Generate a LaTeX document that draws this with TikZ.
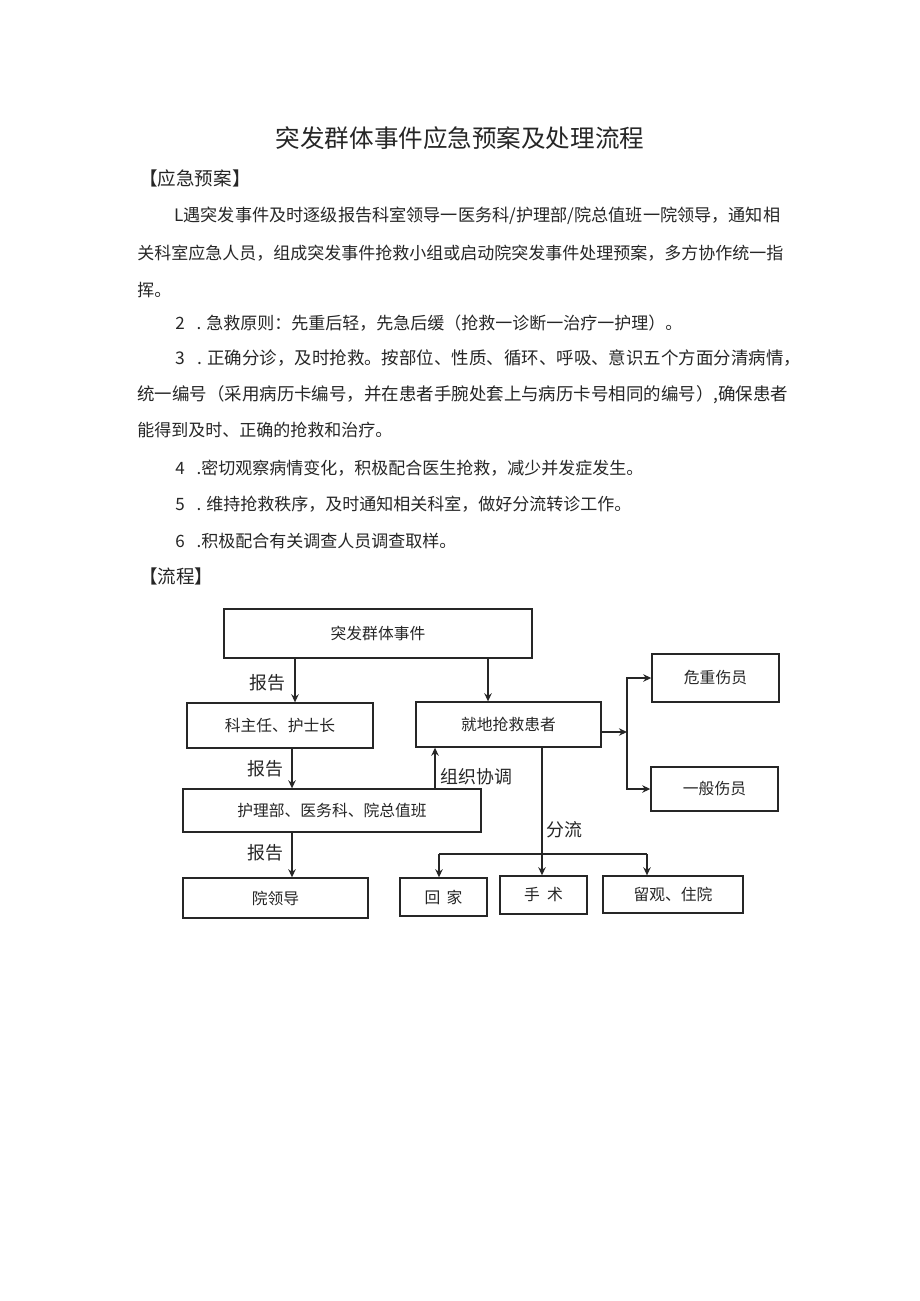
\documentclass[tikz,border=0pt]{standalone}
\usepackage{fontspec}
\setmainfont{Noto Sans CJK SC}
\usepackage{tikz}
\usetikzlibrary{arrows.meta,positioning,calc}
\definecolor{ink}{HTML}{262626}
\tikzset{box/.style={draw=ink,line width=0.9pt,align=center,text=ink,inner sep=0pt,font=\fontsize{10.2pt}{12pt}\selectfont}, flow/.style={-{Stealth[length=5.2pt,width=4.8pt]},line width=0.9pt,draw=ink}, tag/.style={font=\fontsize{11.6pt}{13pt}\selectfont,inner sep=0pt,text=ink}, txt/.style={anchor=west,inner sep=0pt,text=ink,font=\fontsize{11pt}{13pt}\selectfont}}

\begin{document}
\begin{tikzpicture}[x=0.6471pt,y=-0.6471pt]
\fill[white] (0,0) rectangle (920,1301);
\useasboundingbox (0,0) rectangle (920,1301);
\node[inner sep=0pt,text=ink,font=\fontsize{15.9pt}{18pt}\selectfont] (title) at (460,138) {突发群体事件应急预案及处理流程};
\node[txt,font=\fontsize{12pt}{14pt}\selectfont] (h1) at (139,178) {【应急预案】};
\node[txt,font=\fontsize{11.1pt}{13pt}\selectfont] (l1) at (174,216) {L遇突发事件及时逐级报告科室领导一医务科/护理部/院总值班一院领导，通知相};
\node[txt] (l2) at (137,253) {关科室应急人员，组成突发事件抢救小组或启动院突发事件处理预案，多方协作统一指};
\node[txt] (l3) at (137,290) {挥。};
\node[txt] (l4) at (175,323) {2\hspace{0.7em}.\hspace{0.3em}急救原则：先重后轻，先急后缓（抢救一诊断一治疗一护理）。};
\node[txt,font=\fontsize{11.3pt}{13pt}\selectfont] (l5) at (175,358) {3\hspace{0.7em}.\hspace{0.3em}正确分诊，及时抢救。按部位、性质、循环、呼吸、意识五个方面分清病情，};
\node[txt,font=\fontsize{11.3pt}{13pt}\selectfont] (l6) at (137,395) {统一编号（采用病历卡编号，并在患者手腕处套上与病历卡号相同的编号）,确保患者};
\node[txt] (l7) at (137,430) {能得到及时、正确的抢救和治疗。};
\node[txt] (l8) at (175,468) {4\hspace{0.7em}.密切观察病情变化，积极配合医生抢救，减少并发症发生。};
\node[txt] (l9) at (175,504) {5\hspace{0.7em}.\hspace{0.3em}维持抢救秩序，及时通知相关科室，做好分流转诊工作。};
\node[txt] (l10) at (175,541) {6\hspace{0.7em}.积极配合有关调查人员调查取样。};
\node[txt,font=\fontsize{12pt}{14pt}\selectfont] (h2) at (139,576) {【流程】};
\node[box,minimum width=199.3pt,minimum height=31.7pt] (evt) at (378,633.5) {突发群体事件};
\node[box,minimum width=120.4pt,minimum height=29.1pt] (kzr) at (280,725.5) {科主任、护士长};
\node[box,minimum width=192.8pt,minimum height=27.8pt] (hlb) at (332,810.5) {护理部、医务科、院总值班};
\node[box,minimum width=119.7pt,minimum height=25.9pt] (yld) at (275.5,898) {院领导};
\node[box,minimum width=119.7pt,minimum height=29.1pt] (jd) at (508.5,724.5) {就地抢救患者};
\node[box,minimum width=82.2pt,minimum height=31.1pt] (wz) at (715.5,678) {危重伤员};
\node[box,minimum width=82.2pt,minimum height=28.5pt] (yb) at (714.5,789) {一般伤员};
\node[box,minimum width=56.3pt,minimum height=24.6pt] (hj) at (443.5,897) {回\hspace{0.4em}家};
\node[box,minimum width=56.3pt,minimum height=24.6pt] (ss) at (543.5,895) {手\hspace{0.45em}术};
\node[box,minimum width=90.6pt,minimum height=23.9pt] (lg) at (673,894.5) {留观、住院};
\coordinate (xa) at (295,0);
\coordinate (xb) at (292,0);
\coordinate (xc) at (435,0);
\coordinate (xd) at (488,0);
\coordinate (xe) at (542,0);
\coordinate (jn) at (627,732);
\coordinate (sl) at (439,854);
\coordinate (sr) at (647,854);
\draw[flow] (evt.south -| xa)--node[tag,left=6pt,pos=0.55]{报告}(kzr.north -| xa);
\draw[flow] (kzr.south -| xb)--node[tag,left=5pt]{报告}(hlb.north -| xb);
\draw[flow] (hlb.south -| xb)--node[tag,left=5pt,pos=0.45]{报告}(yld.north -| xb);
\draw[flow] (evt.south -| xd)--(jd.north -| xd);
\draw[flow] (hlb.north -| xc)--node[tag,right=3pt,pos=0.28]{组织协调}(jd.south -| xc);
\draw[flow] (jd.east |- jn)--(jn);
\draw[flow] (jn) |- (wz.west);
\draw[flow] (jn) |- (yb.west);
\draw[flow] (jd.south -| xe)--node[tag,right=2.5pt,pos=0.64]{分流}(ss.north -| xe);
\draw[line width=0.9pt,draw=ink] (sl)--(sr);
\draw[flow] (sl)--(sl |- hj.north);
\draw[flow] (sr)--(sr |- lg.north);
\end{tikzpicture}
\end{document}
